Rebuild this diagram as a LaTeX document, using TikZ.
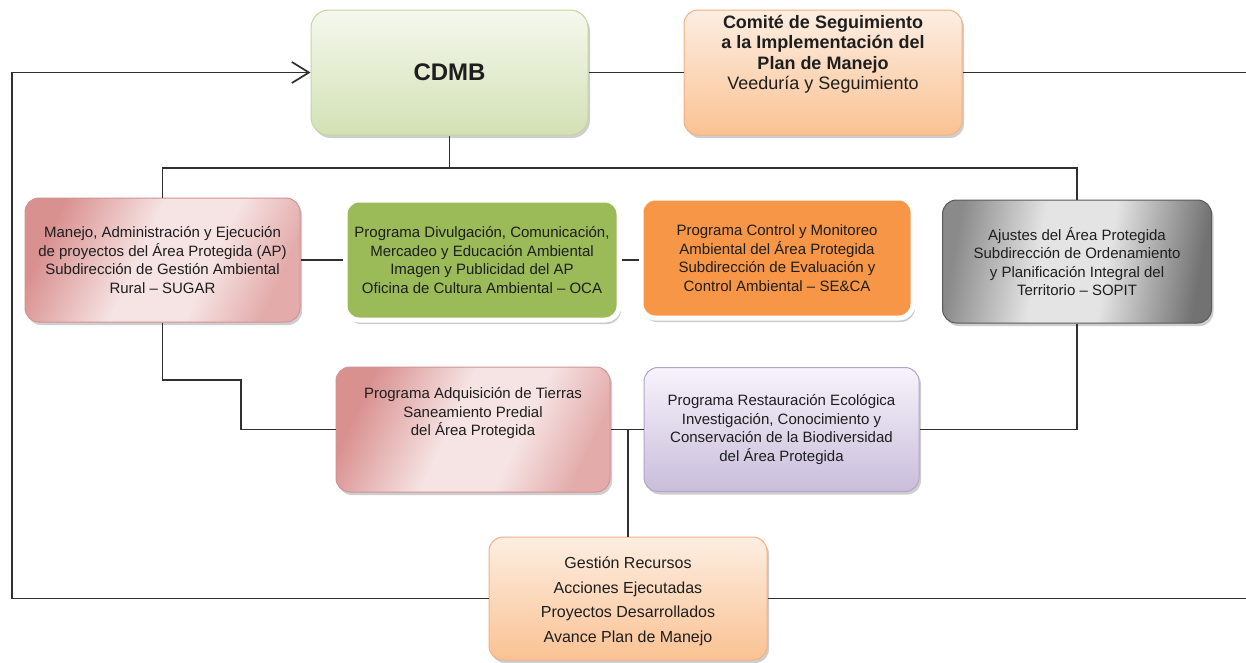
\documentclass[tikz,border=0pt]{standalone}
\usepackage{fontspec}
\setmainfont{Liberation Sans}
\usetikzlibrary{arrows.meta,shadows}
\definecolor{linec}{HTML}{303030}
\definecolor{textc}{HTML}{1E1E1E}
\definecolor{cdmbTop}{HTML}{F5F8EE}
\definecolor{cdmbBot}{HTML}{D3E1B4}
\definecolor{cdmbDraw}{HTML}{C4D6A0}
\definecolor{peachTop}{HTML}{FDEEE2}
\definecolor{peachBot}{HTML}{FAC293}
\definecolor{peachDraw}{HTML}{F2B283}
\definecolor{pinkA}{HTML}{D99190}
\definecolor{pinkB}{HTML}{F6E3E3}
\definecolor{pinkC}{HTML}{E3ACAB}
\definecolor{pinkDraw}{HTML}{D49291}
\definecolor{lavTop}{HTML}{F7F3FB}
\definecolor{lavBot}{HTML}{C9BDDB}
\definecolor{lavDraw}{HTML}{B3A4C9}
\definecolor{grayA}{HTML}{8A8A8A}
\definecolor{grayB}{HTML}{E4E4E4}
\definecolor{grayC}{HTML}{727272}
\definecolor{grayDraw}{HTML}{5A5A5A}
\definecolor{greenF}{HTML}{9BBB59}
\definecolor{orangeF}{HTML}{F79646}
\pgfdeclarehorizontalshading{grayshade}{100bp}{color(0bp)=(grayA); color(25bp)=(grayA); color(42bp)=(grayB); color(56bp)=(grayB); color(75bp)=(grayC); color(100bp)=(grayC)}
\pgfdeclarehorizontalshading{pinkshade}{100bp}{color(0bp)=(pinkA); color(25bp)=(pinkA); color(45bp)=(pinkB); color(60bp)=(pinkB); color(75bp)=(pinkC); color(100bp)=(pinkC)}
\tikzset{
  conn/.style={draw=linec, line width=1.7pt},
  softshadow/.style={drop shadow={shadow xshift=2pt, shadow yshift=-3pt, opacity=0.35, fill=black!55}},
  box/.style={rounded corners=14pt, minimum width=275pt, minimum height=124pt,
    inner sep=2pt, align=center, text=textc, font=\fontsize{15}{18.5}\selectfont},
  cdmbbox/.style={box, rounded corners=18pt, top color=cdmbTop, bottom color=cdmbBot, draw=cdmbDraw, line width=1pt, softshadow},
  peachbox/.style={box, top color=peachTop, bottom color=peachBot, draw=peachDraw, line width=1pt, softshadow},
  pinkbox/.style={box, shade, shading=pinkshade, shading angle=-25, draw=pinkDraw, line width=1pt, softshadow},
  lavbox/.style={box, top color=lavTop, bottom color=lavBot, draw=lavDraw, line width=1pt, softshadow},
  graybox/.style={box, shade, shading=grayshade, shading angle=-10, draw=grayDraw, line width=1pt, softshadow},
  glowbox/.style={box, draw=white, line width=5pt,
    drop shadow={shadow xshift=2pt, shadow yshift=-4pt, opacity=0.4, fill=black!50}},
  plain/.style={inner sep=0pt, align=center, text=textc}
}
\begin{document}
\begin{tikzpicture}[x=1pt,y=-1pt]
\useasboundingbox[fill=white] (0,0) rectangle (1246,662);

% boxes
\node[cdmbbox, minimum width=277pt, minimum height=125pt] (cdmb) at (449.5,72.5) {};
\node[plain, font=\fontsize{24}{28}\selectfont\bfseries] (cdmbtext) at (cdmb.center) {CDMB};

\node[peachbox, minimum width=278pt, minimum height=125pt] (comite) at (823,72.5) {};
\node[plain, font=\fontsize{18}{20.5}\selectfont, yshift=18pt] (comitetext) at (comite.center)
  {\textbf{Comité de Seguimiento}\\\textbf{a la Implementación del}\\\textbf{Plan de Manejo}\\Veeduría y Seguimiento};

\node[pinkbox] (manejo) at (162.5,260) {Manejo, Administración y Ejecución\\de proyectos del Área Protegida (AP)\\Subdirección de Gestión Ambiental\\Rural – SUGAR};

\node[glowbox, fill=greenF, minimum width=274pt, minimum height=120pt] (divul) at (482,260) {Programa Divulgación, Comunicación,\\Mercadeo y Educación Ambiental\\Imagen y Publicidad del AP\\Oficina de Cultura Ambiental – OCA};

\node[glowbox, fill=orangeF, minimum width=272pt, minimum height=120pt] (control) at (777,258) {Programa Control y Monitoreo\\Ambiental del Área Protegida\\Subdirección de Evaluación y\\Control Ambiental – SE\&CA};

\node[graybox, minimum width=269pt, minimum height=123pt] (ajustes) at (1077,261.5) {Ajustes del Área Protegida\\Subdirección de Ordenamiento\\y Planificación Integral del\\Territorio – SOPIT};

\node[pinkbox, minimum width=274pt, minimum height=125pt] (adq) at (473,429.5) {};
\node[plain, font=\fontsize{15}{18.5}\selectfont, yshift=16pt] (adqtext) at (adq.center) {Programa Adquisición de Tierras\\Saneamiento Predial\\del Área Protegida};

\node[lavbox, minimum width=275pt, minimum height=124pt] (rest) at (781.5,429.5) {Programa Restauración Ecológica\\Investigación, Conocimiento y\\Conservación de la Biodiversidad\\del Área Protegida};

\node[peachbox, minimum width=278pt, minimum height=123pt] (gestion) at (628,598.5) {};
\node[plain, font=\fontsize{16}{24.5}\selectfont, yshift=-3pt] (gestiontext) at (gestion.center) {Gestión Recursos\\Acciones Ejecutadas\\Proyectos Desarrollados\\Avance Plan de Manejo};

% coordinates
\coordinate (fbBL) at (12,598.5);
\coordinate (topR) at (1246,72.5);
\coordinate (botR) at (1246,598.5);
\coordinate (hub) at (449.5,168);
\coordinate (s1) at (162.5,380);
\coordinate (s2) at (241,380);

% connectors
\draw[conn, -{Straight Barb[length=17pt, width=21pt, line width=1.7pt]}] (gestion.west) -- (fbBL) |- (cdmb.west);
\draw[conn] (gestion.east) -- (botR);
\draw[conn] (cdmb.east) -- (comite.west);
\draw[conn] (comite.east) -- (topR);
\draw[conn] (cdmb.south) -- (hub);
\draw[conn] (manejo.north) |- (hub) -| (ajustes.north);
\draw[conn] (manejo.east) -- (divul.west);
\draw[conn] (divul.east) -- (control.west |- divul.east);
\draw[conn] (manejo.south) -- (s1) -- (s2) |- (adq.west);
\draw[conn] (adq.east) -- (rest.west);
\draw[conn] (gestion.north |- adq.east) -- (gestion.north);
\draw[conn] (ajustes.south) |- (rest.east);
\end{tikzpicture}
\end{document}
